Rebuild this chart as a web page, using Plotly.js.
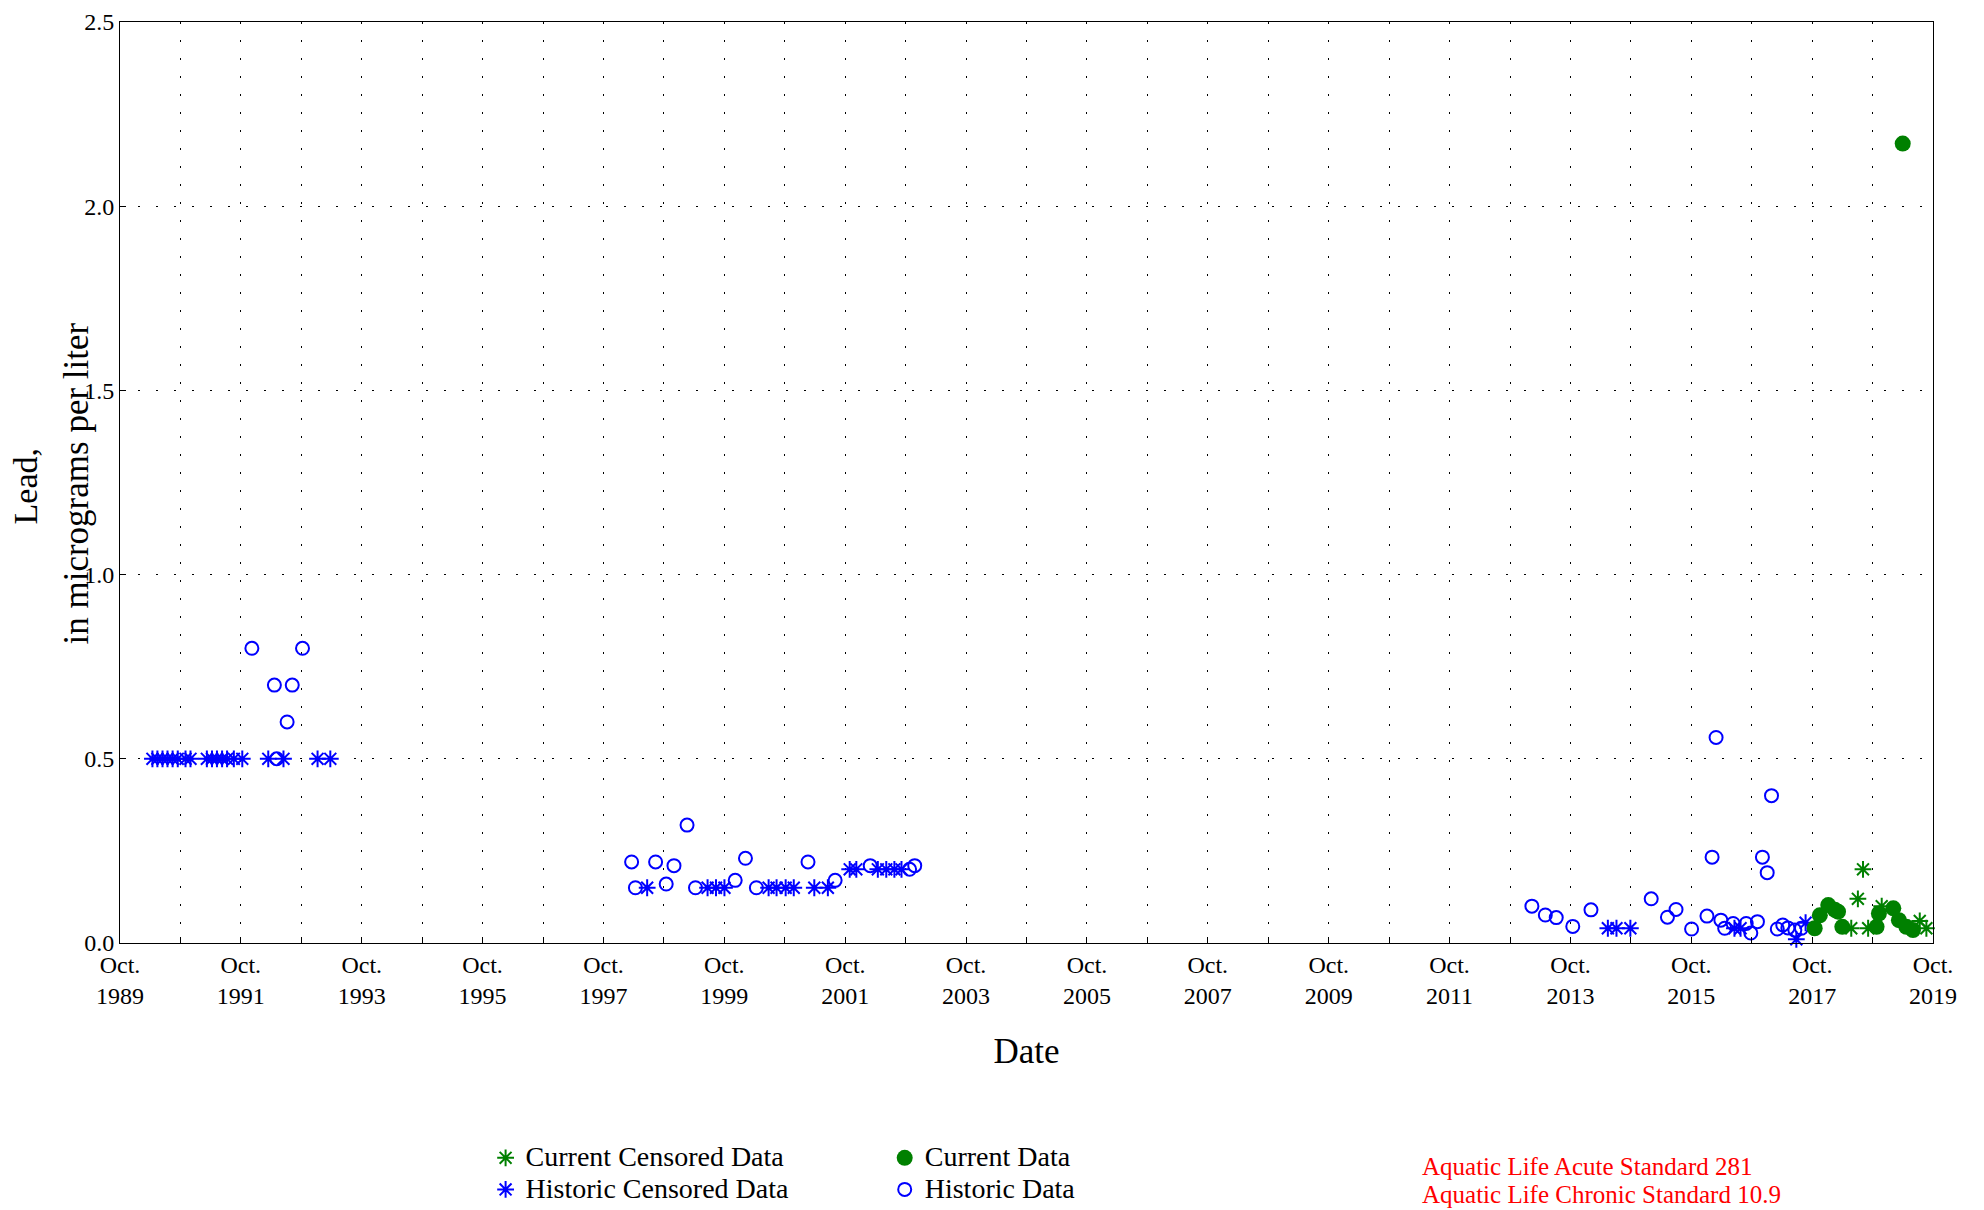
<!DOCTYPE html>
<html>
<head>
<meta charset="utf-8">
<script src="https://cdn.plot.ly/plotly-3.0.1.min.js"></script>
<style>html,body{margin:0;padding:0;background:#fff;}#chart{width:1984px;height:1210px;}</style>
</head>
<body>
<div id="chart"></div>
<script>
// ---- Data ----
const historicDates = ['1991-12-07','1992-04-21','1992-05-05','1992-07-07','1992-08-07','1992-10-08',
  '1998-03-20','1998-04-12','1998-08-12','1998-10-15','1998-12-01','1999-02-18','1999-04-10','1999-12-06',
  '2000-02-06','2000-04-12','2001-02-18','2001-08-01','2002-03-01','2002-10-25','2002-11-25',
  '2013-02-10','2013-05-02','2013-07-07','2013-10-15','2014-02-02','2015-02-01','2015-05-10','2015-07-01',
  '2015-10-03','2016-01-04','2016-02-04','2016-02-28','2016-03-28','2016-04-20','2016-06-10','2016-08-28',
  '2016-09-25','2016-11-04','2016-12-04','2017-01-02','2017-01-28','2017-03-04','2017-04-06','2017-05-07',
  '2017-06-18','2017-07-28'];
const historicValues = [0.8,0.7,0.5,0.6,0.7,0.8,
  0.22,0.15,0.22,0.16,0.21,0.32,0.15,0.17,
  0.23,0.15,0.22,0.17,0.21,0.20,0.21,
  0.10,0.076,0.069,0.045,0.09,0.12,0.07,0.091,
  0.038,0.073,0.233,0.558,0.062,0.04,0.053,0.053,
  0.027,0.058,0.233,0.191,0.40,0.038,0.049,0.041,
  0.035,0.04];

const historicCensoredDates = ['1990-04-15','1990-05-15','1990-06-15','1990-07-15','1990-08-15','1990-09-15','1990-11-01','1990-12-01',
  '1991-03-10','1991-04-10','1991-05-10','1991-06-10','1991-07-10','1991-08-20','1991-10-10',
  '1992-03-15','1992-06-15','1993-01-07','1993-03-25',
  '1998-06-22','1999-06-22','1999-08-12','1999-10-02',
  '2000-06-25','2000-08-12','2000-10-06','2000-11-24','2001-03-28','2001-06-18',
  '2001-10-28','2001-12-07','2002-04-16','2002-06-06','2002-07-25','2002-09-06',
  '2014-05-15','2014-07-06','2014-09-28','2016-06-18','2016-07-25','2017-06-27','2017-08-22'];
const historicCensoredValues = [0.5,0.5,0.5,0.5,0.5,0.5,0.5,0.5,
  0.5,0.5,0.5,0.5,0.5,0.5,0.5,
  0.5,0.5,0.5,0.5,
  0.15,0.15,0.15,0.15,
  0.15,0.15,0.15,0.15,0.15,0.15,
  0.2,0.2,0.2,0.2,0.2,0.2,
  0.04,0.04,0.04,0.04,0.04,0.01,0.055];

const currentDates = ['2017-10-16','2017-11-16','2018-01-06','2018-02-15','2018-03-06','2018-04-01',
  '2018-10-25','2018-11-08','2019-02-03','2019-03-09','2019-04-01','2019-04-23','2019-06-02'];
const currentValues = [0.04,0.075,0.103,0.09,0.085,0.044,
  0.044,0.08,0.094,0.062,2.17,0.044,0.035];

const currentCensoredDates = ['2018-05-25','2018-07-04','2018-08-04','2018-09-04','2018-11-25','2019-07-13','2019-08-22'];
const currentCensoredValues = [0.04,0.12,0.2,0.04,0.1,0.06,0.04];

const tickYears = [1989,1990,1991,1992,1993,1994,1995,1996,1997,1998,1999,2000,2001,2002,2003,2004,
  2005,2006,2007,2008,2009,2010,2011,2012,2013,2014,2015,2016,2017,2018,2019];
const yTicks = [0,0.5,1.0,1.5,2.0,2.5];
const seriesNames = ['Historic Data','Historic Censored Data','Current Censored Data','Current Data'];
const yTitleLines = ['Lead,','in micrograms per liter'];
const xTitle = 'Date';
const standardLines = ['Aquatic Life Acute Standard 281','Aquatic Life Chronic Standard 10.9'];

// ---- Chart ----
const FONT = 'Liberation Serif, Times New Roman, serif';
const BLUE = '#0000FF', GREEN = '#008000';
const tickvals = tickYears.map(y => y + '-10-01');
const ticktext = tickYears.map(y => (y % 2 === 1) ? ('Oct.<br>' + y) : '');
const legName = s => '<span style="font-size:28px">' + s + '</span>';
const stdText = standardLines.map(s => '<span style="font-size:25px">' + s + '</span>').join('<br>');

const traces = [
  {x: historicDates, y: historicValues, type: 'scatter', mode: 'markers', name: legName(seriesNames[0]),
   legend: 'legend2', legendrank: 2, cliponaxis: false,
   marker: {symbol: 'circle-open', size: 13, color: BLUE, line: {color: BLUE, width: 2}}},
  {x: historicCensoredDates, y: historicCensoredValues, type: 'scatter', mode: 'markers', name: legName(seriesNames[1]),
   legend: 'legend', legendrank: 2, cliponaxis: false,
   marker: {symbol: 'asterisk-open', size: 14, color: BLUE, line: {color: BLUE, width: 2}}},
  {x: currentCensoredDates, y: currentCensoredValues, type: 'scatter', mode: 'markers', name: legName(seriesNames[2]),
   legend: 'legend', legendrank: 1, cliponaxis: false,
   marker: {symbol: 'asterisk-open', size: 14, color: GREEN, line: {color: GREEN, width: 2}}},
  {x: currentDates, y: currentValues, type: 'scatter', mode: 'markers', name: legName(seriesNames[3]),
   legend: 'legend2', legendrank: 1, cliponaxis: false,
   marker: {symbol: 'circle', size: 16, color: GREEN}}
];

const PX0 = 120.5, PW = 1812.5, PY0 = 943, PH = 921, H = 1210;
const px = v => (v - PX0) / PW;
const py = v => (PY0 - v) / PH;
const cy = v => 1 - v / H;

const layout = {
  width: 1984, height: 1210,
  margin: {l: 120, r: 51, t: 22, b: 267, pad: 0},
  paper_bgcolor: '#fff', plot_bgcolor: '#fff',
  font: {family: FONT, color: '#000', size: 24},
  showlegend: true,
  xaxis: {
    type: 'date', range: ['1989-10-01', '2019-10-01'],
    tickmode: 'array', tickvals: tickvals, ticktext: ticktext,
    ticks: 'inside', ticklen: 6, tickcolor: '#000', tickwidth: 1,
    showgrid: true, gridcolor: '#000', gridwidth: 1, griddash: '2px,16px',
    showline: true, mirror: true, linecolor: '#000', linewidth: 1,
    zeroline: false, tickfont: {size: 24, family: FONT}, automargin: false,
    title: {text: xTitle, font: {size: 35, family: FONT}, standoff: 30}
  },
  yaxis: {
    range: [0, 2.5], tickmode: 'array', tickvals: yTicks, tickformat: '.1f',
    ticks: 'inside', ticklen: 6, tickcolor: '#000', tickwidth: 1,
    showgrid: true, gridcolor: '#000', gridwidth: 1, griddash: '2px,16px',
    showline: true, mirror: true, linecolor: '#000', linewidth: 1,
    zeroline: false, tickfont: {size: 24, family: FONT}, automargin: false
  },
  legend: {xref: 'paper', yref: 'container', x: px(486), y: cy(1137), xanchor: 'left', yanchor: 'top', orientation: 'v',
    font: {size: 22, family: FONT}, bgcolor: 'rgba(0,0,0,0)', tracegroupgap: 0},
  legend2: {xref: 'paper', yref: 'container', x: px(885), y: cy(1137), xanchor: 'left', yanchor: 'top', orientation: 'v',
    font: {size: 22, family: FONT}, bgcolor: 'rgba(0,0,0,0)', tracegroupgap: 0},
  annotations: [
    {text: yTitleLines[0], xref: 'paper', yref: 'paper', x: px(26), y: py(486), xanchor: 'center', yanchor: 'middle',
     textangle: -90, showarrow: false, font: {size: 34, family: FONT, color: '#000'}},
    {text: yTitleLines[1], xref: 'paper', yref: 'paper', x: px(77), y: py(483), xanchor: 'center', yanchor: 'middle',
     textangle: -90, showarrow: false, font: {size: 35, family: FONT, color: '#000'}},
    {text: stdText, xref: 'paper', yref: 'paper', x: px(1420), y: py(1180), xanchor: 'left', yanchor: 'middle',
     align: 'left', showarrow: false, font: {size: 21.5, family: FONT, color: '#FF0000'}}
  ]
};

Plotly.newPlot('chart', traces, layout, {displayModeBar: false, staticPlot: true});
</script>
</body>
</html>
